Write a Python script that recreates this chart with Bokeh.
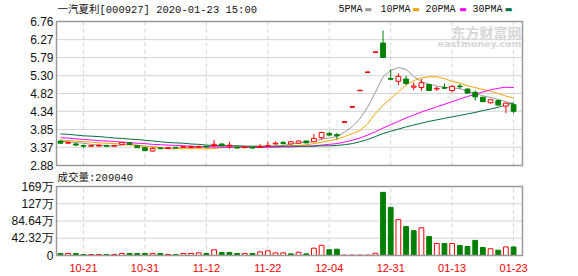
from bokeh.plotting import figure
from bokeh.models import ColumnDataSource, Label, Range1d
from bokeh.core.properties import value
from bokeh.embed import file_html
from bokeh.resources import INLINE

# ---------------- data ----------------
dates = ["10-16", "10-17", "10-18", "10-21", "10-22", "10-23", "10-24", "10-25", "10-28", "10-29",
         "10-30", "10-31", "11-01", "11-04", "11-05", "11-06", "11-07", "11-08", "11-11", "11-12",
         "11-13", "11-14", "11-15", "11-18", "11-19", "11-20", "11-21", "11-22", "11-25", "11-26",
         "11-27", "11-28", "11-29", "12-02", "12-03", "12-04", "12-05", "12-23", "12-24", "12-25",
         "12-26", "12-27", "12-30", "12-31", "01-02", "01-03", "01-06", "01-07", "01-08", "01-09",
         "01-10", "01-13", "01-14", "01-15", "01-16", "01-17", "01-20", "01-21", "01-22", "01-23"]

opens = [3.54, 3.48, 3.46, 3.42, 3.40, 3.41, 3.42, 3.40, 3.45, 3.49,
         3.41, 3.36, 3.27, 3.35, 3.34, 3.37, 3.37, 3.37, 3.37, 3.40,
         3.42, 3.46, 3.41, 3.37, 3.36, 3.37, 3.37, 3.40, 3.46, 3.49,
         3.46, 3.48, 3.54, 3.52, 3.63, 3.74, 3.71, 4.05, 4.46, 4.90,
         5.39, 5.93, 6.18, 5.22, 5.15, 5.21, 4.99, 4.98, 5.06, 4.94,
         4.98, 4.90, 5.02, 4.94, 4.85, 4.72, 4.57, 4.63, 4.48, 4.52]
highs = [3.56, 3.52, 3.49, 3.44, 3.43, 3.44, 3.44, 3.43, 3.51, 3.50,
         3.42, 3.37, 3.37, 3.37, 3.37, 3.38, 3.41, 3.41, 3.42, 3.41,
         3.57, 3.47, 3.52, 3.37, 3.38, 3.38, 3.46, 3.52, 3.53, 3.54,
         3.53, 3.55, 3.55, 3.73, 3.79, 3.79, 3.76, 4.05, 4.46, 4.90,
         5.39, 5.93, 6.52, 5.47, 5.36, 5.30, 5.12, 5.21, 5.08, 5.00,
         5.09, 5.05, 5.08, 4.95, 4.90, 4.72, 4.67, 4.65, 4.57, 4.56]
lows = [3.47, 3.46, 3.41, 3.35, 3.38, 3.39, 3.38, 3.39, 3.44, 3.44,
        3.35, 3.27, 3.26, 3.33, 3.33, 3.35, 3.36, 3.36, 3.36, 3.37,
        3.36, 3.40, 3.33, 3.35, 3.35, 3.35, 3.36, 3.38, 3.45, 3.44,
        3.45, 3.47, 3.48, 3.51, 3.58, 3.67, 3.58, 4.05, 4.46, 4.90,
        5.39, 5.93, 5.79, 5.21, 5.05, 5.05, 4.91, 4.89, 4.90, 4.89,
        4.96, 4.85, 4.94, 4.82, 4.63, 4.60, 4.55, 4.49, 4.29, 4.29]
closes = [3.48, 3.50, 3.43, 3.40, 3.42, 3.42, 3.40, 3.42, 3.50, 3.45,
          3.36, 3.28, 3.34, 3.34, 3.35, 3.36, 3.39, 3.38, 3.39, 3.38,
          3.45, 3.41, 3.42, 3.36, 3.37, 3.36, 3.38, 3.42, 3.48, 3.48,
          3.52, 3.54, 3.49, 3.61, 3.77, 3.70, 3.68, 4.05, 4.46, 4.90,
          5.39, 5.93, 5.79, 5.21, 5.28, 5.09, 5.02, 5.11, 4.90, 4.96,
          4.97, 5.01, 5.00, 4.83, 4.73, 4.60, 4.65, 4.51, 4.56, 4.34]

ma5 = [3.53, 3.52, 3.50, 3.48, 3.45, 3.43, 3.41, 3.41, 3.43, 3.44,
       3.43, 3.40, 3.39, 3.36, 3.33, 3.33, 3.36, 3.36, 3.37, 3.38,
       3.40, 3.40, 3.41, 3.40, 3.40, 3.38, 3.38, 3.38, 3.40, 3.42,
       3.46, 3.49, 3.50, 3.53, 3.59, 3.62, 3.66, 3.78, 3.93, 4.14,
       4.45, 4.85, 5.27, 5.44, 5.52, 5.47, 5.28, 5.14, 5.07, 5.02,
       4.99, 4.97, 4.95, 4.88, 4.82, 4.76, 4.71, 4.66, 4.60, 4.54]
ma10 = [3.57, 3.55, 3.54, 3.52, 3.51, 3.49, 3.48, 3.47, 3.46, 3.44,
        3.42, 3.40, 3.38, 3.36, 3.34, 3.34, 3.33, 3.33, 3.33, 3.33,
        3.34, 3.36, 3.37, 3.38, 3.39, 3.39, 3.39, 3.39, 3.40, 3.40,
        3.41, 3.42, 3.44, 3.47, 3.51, 3.55, 3.59, 3.66, 3.74, 3.82,
        4.00, 4.28, 4.50, 4.69, 4.86, 5.05, 5.17, 5.24, 5.27, 5.27,
        5.22, 5.15, 5.10, 5.03, 4.98, 4.93, 4.88, 4.82, 4.75, 4.70]
ma20 = [3.63, 3.62, 3.60, 3.58, 3.57, 3.55, 3.54, 3.53, 3.51, 3.50,
        3.48, 3.47, 3.45, 3.44, 3.43, 3.42, 3.41, 3.40, 3.39, 3.38,
        3.38, 3.37, 3.37, 3.37, 3.37, 3.37, 3.37, 3.37, 3.37, 3.38,
        3.38, 3.39, 3.40, 3.41, 3.43, 3.45, 3.47, 3.51, 3.56, 3.62,
        3.70, 3.79, 3.89, 3.98, 4.07, 4.16, 4.24, 4.32, 4.39, 4.46,
        4.53, 4.60, 4.67, 4.74, 4.80, 4.86, 4.92, 4.96, 4.99, 4.98]
ma30 = [3.73, 3.72, 3.70, 3.68, 3.67, 3.66, 3.64, 3.62, 3.61, 3.59,
        3.58, 3.56, 3.54, 3.52, 3.50, 3.49, 3.48, 3.46, 3.45, 3.43,
        3.42, 3.42, 3.41, 3.41, 3.40, 3.40, 3.40, 3.40, 3.40, 3.40,
        3.40, 3.40, 3.40, 3.40, 3.41, 3.41, 3.42, 3.44, 3.47, 3.52,
        3.58, 3.66, 3.74, 3.80, 3.86, 3.92, 3.97, 4.02, 4.07, 4.11,
        4.15, 4.19, 4.23, 4.27, 4.31, 4.36, 4.40, 4.45, 4.51, 4.57]

# volume in 万 (10k lots)
volume_wan = [5, 5, 5, 2.5, 2.5, 2.5, 2.5, 2.5, 5, 5,
              5, 5, 5, 5, 2.5, 2.5, 5, 5, 6.5, 5,
              14, 7.5, 7.5, 5, 5, 5, 9, 11.5, 6.5, 6.5,
              4, 8, 4, 18, 25, 14, 15.5, 1, 1, 1,
              1, 5.5, 155, 118, 88, 71, 61, 68, 46.5, 29.5,
              29.5, 29.5, 24.5, 22, 37, 19.6, 16.5, 13, 21, 20.904]
vol_up = [0, 1, 0, 0, 1, 1, 0, 1, 1, 0,
          0, 0, 1, 0, 1, 0, 1, 1, 1, 0,
          1, 0, 0, 0, 1, 0, 1, 1, 1, 1,
          0, 1, 0, 1, 1, 0, 0, 1, 1, 1,
          1, 1, 0, 0, 1, 0, 0, 1, 0, 1,
          0, 1, 0, 0, 0, 0, 1, 0, 1, 0]

price_ticks = [2.88, 3.37, 3.85, 4.34, 4.82, 5.30, 5.79, 6.27, 6.76]
price_tick_labels = ["2.88", "3.37", "3.85", "4.34", "4.82", "5.30", "5.79", "6.27", "6.76"]
vol_ticks = [0, 42.32, 84.64, 127, 169.28]
vol_tick_labels = ["0", "42.32万", "84.64万", "127万", "169万"]
date_ticks = [3, 11, 19, 27, 35, 43, 51, 59]

title_text = "一汽夏利[000927] 2020-01-23 15:00"
vol_title = "成交量:209040"
legend_names = ["5PMA", "10PMA", "20PMA", "30PMA"]

# ---------------- layout / style ----------------
W, H = 578, 276
RED = "#ff0000"
GREEN = "#008000"
MA_COLORS = ["#999999", "#f5a300", "#ff00ff", "#00703c"]
GRID = "#d4d4d4"
FRAME = "#999999"
TXT = "#111111"
HEAD_FONT = "'Liberation Mono', 'Noto Sans CJK SC'"

# pixel geometry of the two panels
BOX_L, BOX_R = 56, 522
MAIN_T, MAIN_B = 21, 165
VOL_T, VOL_B = 186, 255
X_PX0, X_PX_STEP = 59.96, 7.68          # centre of first candle, candle pitch
P_LO, P_HI = price_ticks[0], price_ticks[-1]
V_HI = vol_ticks[-1]
KP = (P_HI - P_LO) / (MAIN_B - MAIN_T)  # price per px
KV = V_HI / (VOL_B - VOL_T)             # volume per px


def dx(px):
    return (px - X_PX0) / X_PX_STEP


def dp(py):  # canvas y -> price
    return P_HI - (py - MAIN_T) * KP


def dv(py):  # canvas y -> volume
    return V_HI - (py - VOL_T) * KV


p = figure(width=W, height=H, x_range=Range1d(dx(0), dx(W)), y_range=Range1d(dp(H), dp(0)),
           min_border=0, min_border_left=0, min_border_right=0, min_border_top=0, min_border_bottom=0,
           toolbar_location=None, output_backend="svg", x_axis_location=None, y_axis_location=None)
p.extra_y_ranges = {"vol": Range1d(dv(H), dv(0))}
p.outline_line_color = None
p.xgrid.visible = False
p.ygrid.visible = False
p.background_fill_color = "white"
p.border_fill_color = "white"

xl, xr = dx(BOX_L), dx(BOX_R)

# ---- grid lines ----
p.segment(x0=[xl] * 7, x1=[xr] * 7, y0=price_ticks[1:-1], y1=price_ticks[1:-1],
          line_color=GRID, line_width=1)
p.segment(x0=date_ticks, x1=date_ticks, y0=[P_LO] * len(date_ticks), y1=[P_HI] * len(date_ticks),
          line_color=GRID, line_width=1, line_dash="4 3")
p.segment(x0=[xl] * 3, x1=[xr] * 3, y0=vol_ticks[1:-1], y1=vol_ticks[1:-1],
          line_color=GRID, line_width=1, y_range_name="vol")
p.segment(x0=date_ticks, x1=date_ticks, y0=[0] * len(date_ticks), y1=[V_HI] * len(date_ticks),
          line_color=GRID, line_width=1, line_dash="4 3", y_range_name="vol")

# ---- watermark ----
p.add_layout(Label(x=dx(521), y=dp(31), text="东方财富网", text_align="right", text_baseline="middle",
                   text_font="Noto Sans CJK SC", text_font_style="bold", text_font_size="14px",
                   text_color="#d6d6d6"))
p.add_layout(Label(x=dx(521), y=dp(43), text="eastmoney.com", text_align="right", text_baseline="middle",
                   text_font="DejaVu Sans", text_font_style="bold", text_font_size="9.5px",
                   text_color="#d6d6d6"))

# ---- moving averages ----
idx = list(range(len(dates)))
for vals, col in zip([ma5, ma10, ma20, ma30], MA_COLORS):
    p.line(idx, vals, line_color=col, line_width=1)

# ---- candles ----
BW = 0.62
up_flag = [c >= o for o, c in zip(opens, closes)]
wick_src = ColumnDataSource(dict(x=idx, lo=lows, hi=highs,
                                 col=[RED if u else GREEN for u in up_flag]))
p.segment(x0="x", y0="lo", x1="x", y1="hi", line_color="col", line_width=1, source=wick_src)

up_src = ColumnDataSource(dict(
    x=[i for i in idx if up_flag[i]],
    b=[opens[i] for i in idx if up_flag[i]],
    t=[closes[i] for i in idx if up_flag[i]]))
dn_src = ColumnDataSource(dict(
    x=[i for i in idx if not up_flag[i]],
    b=[closes[i] for i in idx if not up_flag[i]],
    t=[opens[i] for i in idx if not up_flag[i]]))
p.vbar(x="x", width=BW, bottom="b", top="t", fill_color="white", line_color=RED, line_width=1, source=up_src)
p.vbar(x="x", width=BW, bottom="b", top="t", fill_color=GREEN, line_color=GREEN, line_width=1, source=dn_src)

flat = [i for i in idx if abs(closes[i] - opens[i]) < 0.015]
flat_src = ColumnDataSource(dict(
    x0=[i - BW / 2 for i in flat], x1=[i + BW / 2 for i in flat],
    y=[closes[i] for i in flat],
    col=[RED if up_flag[i] else GREEN for i in flat]))
p.segment(x0="x0", y0="y", x1="x1", y1="y", line_color="col", line_width=1.5, source=flat_src)

# ---- volume bars ----
vu_src = ColumnDataSource(dict(x=[i for i in idx if vol_up[i]], v=[volume_wan[i] for i in idx if vol_up[i]]))
vd_src = ColumnDataSource(dict(x=[i for i in idx if not vol_up[i]], v=[volume_wan[i] for i in idx if not vol_up[i]]))
p.vbar(x="x", width=BW, bottom=0, top="v", fill_color="white", line_color=RED, line_width=1,
       source=vu_src, y_range_name="vol")
p.vbar(x="x", width=BW, bottom=0, top="v", fill_color=GREEN, line_color=GREEN, line_width=1,
       source=vd_src, y_range_name="vol")

# ---- panel frames ----
p.quad(left=[xl], right=[xr], bottom=[P_LO], top=[P_HI], fill_color=None,
       line_color=FRAME, line_width=1.5)
p.quad(left=[xl], right=[xr], bottom=[0], top=[V_HI], fill_color=None,
       line_color=FRAME, line_width=1.5, y_range_name="vol")

# ---- axis labels ----
p.text(x=[dx(53)] * len(price_ticks), y=price_ticks, text=price_tick_labels,
       text_align="right", text_baseline="middle", text_font=value("Liberation Sans"),
       text_font_size="12px", text_color=TXT)
p.text(x=[dx(53)] * len(vol_ticks), y=vol_ticks, text=vol_tick_labels,
       text_align="right", text_baseline="middle", text_font=value("Liberation Sans"),
       text_font_size="12px", text_color=TXT, y_range_name="vol")
p.text(x=date_ticks, y=[dv(267)] * len(date_ticks), text=[dates[t] for t in date_ticks],
       text_align="center", text_baseline="middle", text_font=value("Liberation Sans"),
       text_font_size="11px", text_color=RED, y_range_name="vol")

# ---- title, legend, volume title ----
p.add_layout(Label(x=dx(57), y=dp(9), text=title_text, text_baseline="middle",
                   text_font=HEAD_FONT, text_font_size="10.5px", text_color=TXT))
leg_px = [338, 380, 425, 472]
dash_px = [367.5, 415.5, 462.5, 508]
for name, lx, dpx, col in zip(legend_names, leg_px, dash_px, MA_COLORS):
    p.add_layout(Label(x=dx(lx), y=dp(9), text=name, text_baseline="middle",
                       text_font="Liberation Mono", text_font_size="10px", text_color=TXT))
    p.add_layout(Label(x=dx(dpx), y=dp(9), text="▬", text_align="center", text_baseline="middle",
                       text_font="DejaVu Sans", text_font_size="8px", text_color=col))
p.add_layout(Label(x=dx(57), y=dv(177), text=vol_title, text_baseline="middle",
                   text_font=HEAD_FONT, text_font_size="10.5px", text_color=TXT,
                   y_range_name="vol"))

open("out.html", "w").write(file_html(p, INLINE))
